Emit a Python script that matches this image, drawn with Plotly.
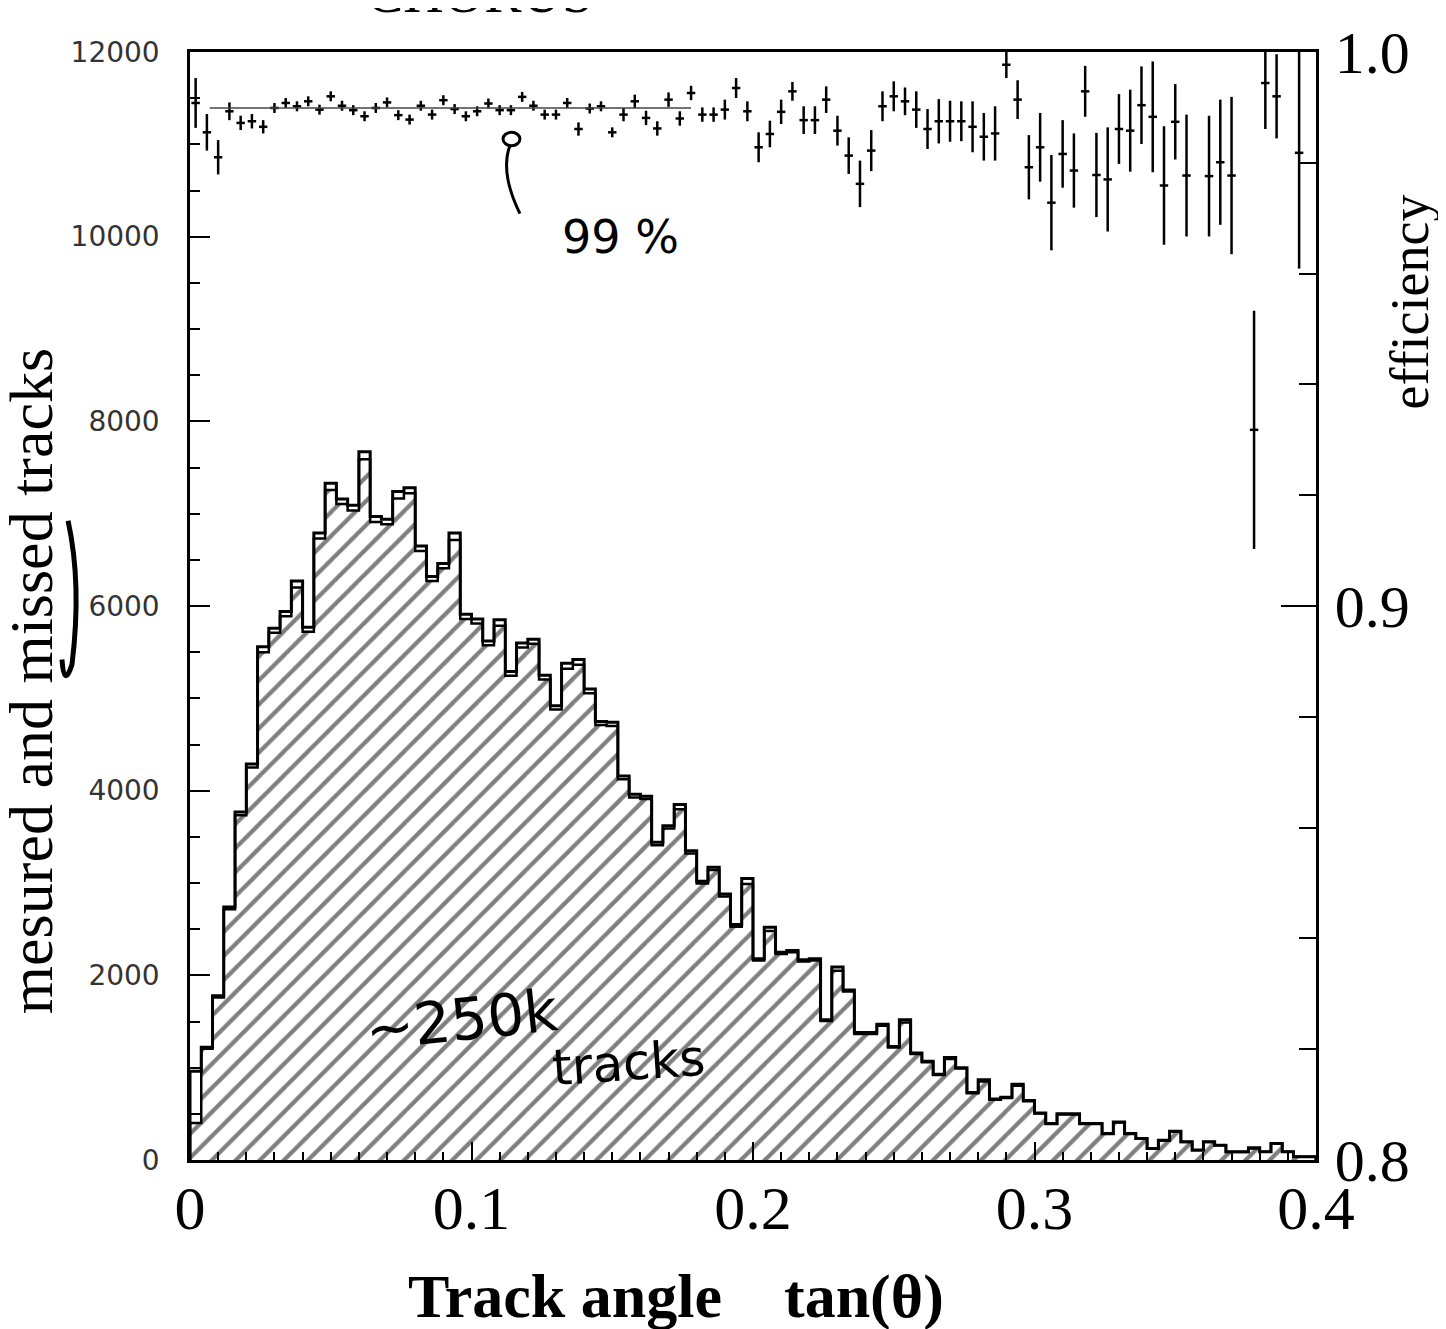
import numpy as np
import plotly.graph_objects as go

# ---------------- data ----------------
bin_width = 0.004
x_range = [0.0, 0.4]

# measured + missed tracks per bin (outer outline), 100 bins of 0.004 in tan(theta)
total_tracks = [
    960, 1220, 1780, 2740, 3770, 4290, 5560, 5760, 5940, 6270,
    5770, 6790, 7330, 7160, 7090, 7670, 6970, 6940, 7240, 7280,
    6650, 6320, 6460, 6790, 5910, 5860, 5620, 5850, 5290, 5600,
    5640, 5250, 4920, 5380, 5420, 5100, 4750, 4740, 4160, 3960,
    3940, 3440, 3620, 3850, 3350, 3020, 3170, 2880, 2550, 3050,
    2180, 2520, 2250, 2270, 2170, 2180, 1520, 2090, 1840, 1380,
    1380, 1470, 1230, 1520, 1160, 1070, 930, 1110, 1000, 730,
    870, 660, 680, 820, 645, 510, 394, 500, 500, 394,
    394, 286, 411, 286, 233, 125, 215, 311, 197, 107,
    197, 161, 89, 89, 132, 89, 179, 89, 36, 36,
]

# missed tracks per bin (gap between the two outlines)
missed_tracks = [
    560, 15, 20, 25, 35, 40, 60, 50, 50, 70,
    50, 60, 75, 55, 55, 80, 60, 55, 75, 60,
    55, 50, 50, 75, 50, 50, 45, 65, 45, 50,
    50, 45, 40, 60, 55, 45, 40, 40, 35, 35,
    30, 30, 30, 50, 30, 25, 30, 25, 25, 60,
    20, 40, 20, 20, 20, 20, 15, 40, 15, 15,
    15, 15, 12, 30, 12, 10, 10, 15, 10, 8,
    20, 8, 8, 15, 8, 6, 5, 6, 6, 5,
    5, 4, 5, 4, 3, 2, 3, 4, 3, 2,
    3, 2, 2, 2, 8, 1, 2, 1, 1, 1,
]

# efficiency per bin (right axis) and its error
efficiency = [
    0.9908, 0.9855, 0.9810, 0.9893, 0.9872, 0.9875, 0.9865, 0.9899, 0.9908, 0.9902,
    0.9911, 0.9896, 0.9920, 0.9903, 0.9895, 0.9884, 0.9899, 0.9909, 0.9886, 0.9878,
    0.9903, 0.9887, 0.9913, 0.9897, 0.9884, 0.9893, 0.9907, 0.9895, 0.9895, 0.9919,
    0.9903, 0.9887, 0.9887, 0.9908, 0.9861, 0.9898, 0.9902, 0.9855, 0.9887, 0.9911,
    0.9881, 0.9862, 0.9914, 0.9880, 0.9926, 0.9887, 0.9887, 0.9896, 0.9935, 0.9893,
    0.9828, 0.9852, 0.9892, 0.9929, 0.9877, 0.9877, 0.9914, 0.9858, 0.9813, 0.9762,
    0.9822, 0.9902, 0.9920, 0.9911, 0.9896, 0.9861, 0.9875, 0.9875, 0.9875, 0.9865,
    0.9847, 0.9853, 0.9977, 0.9914, 0.9792, 0.9828, 0.9728, 0.9816, 0.9786, 0.9929,
    0.9778, 0.9770, 0.9861, 0.9858, 0.9904, 0.9883, 0.9759, 0.9874, 0.9777, None,
    0.9776, 0.9801, 0.9777, None, 0.9318, 0.9944, 0.9920, None, 0.9818, None,
]
efficiency_err = [
    0.0045, 0.0033, 0.0031, 0.0016, 0.0013, 0.0013, 0.0012, 0.0009, 0.0009, 0.0009,
    0.0009, 0.0009, 0.0009, 0.0009, 0.0009, 0.0009, 0.0009, 0.0009, 0.0009, 0.0009,
    0.0009, 0.0009, 0.0009, 0.0009, 0.0009, 0.0009, 0.0009, 0.0009, 0.0009, 0.0009,
    0.0009, 0.0009, 0.0009, 0.0009, 0.0012, 0.0009, 0.0009, 0.0009, 0.0012, 0.0012,
    0.0013, 0.0013, 0.0013, 0.0013, 0.0013, 0.0013, 0.0013, 0.0018, 0.0018, 0.0018,
    0.0027, 0.0024, 0.0022, 0.0017, 0.0025, 0.0025, 0.0024, 0.0027, 0.0033, 0.0042,
    0.0037, 0.0027, 0.0027, 0.0025, 0.0033, 0.0036, 0.0040, 0.0037, 0.0036, 0.0046,
    0.0043, 0.0049, 0.0024, 0.0035, 0.0058, 0.0062, 0.0086, 0.0061, 0.0067, 0.0046,
    0.0076, 0.0094, 0.0063, 0.0074, 0.0070, 0.0100, 0.0107, 0.0068, 0.0110, None,
    0.0109, 0.0113, 0.0142, None, 0.0215, 0.0083, 0.0076, None, 0.0209, None,
]

# flat fit of the efficiency (the "99 %" line)
fit_x = [0.007, 0.178]
fit_y = [0.9899, 0.9899]

x_tick_vals = [0.0, 0.1, 0.2, 0.3, 0.4]
x_tick_labels = ["0", "0.1", "0.2", "0.3", "0.4"]
left_tick_vals = [0, 2000, 4000, 6000, 8000, 10000, 12000]
left_tick_labels = ["0", "2000", "4000", "6000", "8000", "10000", "12000"]
right_tick_vals = [0.8, 0.9, 1.0]
right_tick_labels = ["0.8", "0.9", "1.0"]

# ---------------- derived ----------------
n = len(total_tracks)
edges = np.arange(n + 1) * bin_width
centers = edges[:-1] + bin_width / 2
total = np.array(total_tracks, dtype=float)
measured = total - np.array(missed_tracks, dtype=float)

step_x = np.concatenate([[edges[0]], edges[:-1], [edges[-1], edges[-1]]])
step_total = np.concatenate([[0], total, [total[-1], 0]])
step_meas = np.concatenate([[0], measured, [measured[-1], 0]])

SERIF = "Liberation Serif, Times New Roman, serif"
HAND = "DejaVu Sans, sans-serif"

fig = go.Figure()

# hatched measured histogram
fig.add_trace(go.Bar(
    x=centers, y=measured, width=bin_width,
    marker=dict(color="white", line=dict(width=0),
                pattern=dict(shape="/", fgcolor="black", bgcolor="white",
                             size=17, solidity=0.25)),
    showlegend=False, hoverinfo="skip",
))
# outlines
fig.add_trace(go.Scatter(x=step_x, y=step_meas, mode="lines",
                         line=dict(color="black", width=2.5, shape="hv"),
                         showlegend=False, hoverinfo="skip"))
fig.add_trace(go.Scatter(x=step_x, y=step_total, mode="lines",
                         line=dict(color="black", width=3, shape="hv"),
                         showlegend=False, hoverinfo="skip"))

# efficiency points with error bars
fig.add_trace(go.Scatter(
    x=centers, y=efficiency, yaxis="y2", mode="markers",
    marker=dict(size=1, color="black"),
    error_y=dict(type="data", array=efficiency_err, visible=True,
                 color="black", thickness=2.5, width=0),
    error_x=dict(type="constant", value=0.0015, visible=True,
                 color="black", thickness=2.5, width=0),
    showlegend=False,
))
fig.add_trace(go.Scatter(x=fit_x, y=fit_y, yaxis="y2", mode="lines",
                         line=dict(color="#444", width=1.5),
                         showlegend=False, hoverinfo="skip"))

# page has an 8px body margin: figure is offset by 8px
fig.update_layout(
    width=1438, height=1321,
    margin=dict(l=182, r=130, t=34, b=169),
    paper_bgcolor="white", plot_bgcolor="white",
    bargap=0, barmode="overlay",
    showlegend=False,
    xaxis=dict(
        range=x_range, showgrid=False, zeroline=False,
        showline=True, linecolor="black", linewidth=2.5, mirror=True,
        ticks="inside", ticklen=18, tickwidth=2, tickcolor="black",
        tickvals=x_tick_vals, ticktext=x_tick_labels,
        minor=dict(dtick=0.01, tick0=0, ticks="inside", ticklen=8,
                   tickwidth=1.5, tickcolor="black"),
        tickfont=dict(family=SERIF, size=62, color="black"),
        ticklabelstandoff=-8,
    ),
    yaxis=dict(
        range=[0, 12000], showgrid=False, zeroline=False,
        showline=True, linecolor="black", linewidth=2.5,
        ticks="inside", ticklen=20, tickwidth=2, tickcolor="black",
        tickvals=left_tick_vals, ticktext=left_tick_labels,
        minor=dict(dtick=500, tick0=0, ticks="inside", ticklen=10,
                   tickwidth=1.5, tickcolor="black"),
        tickfont=dict(family="DejaVu Sans, sans-serif", size=28, color="#333"),
        ticklabelstandoff=22,
    ),
    yaxis2=dict(
        overlaying="y", side="right", range=[0.8, 1.0],
        showgrid=False, zeroline=False,
        showline=True, linecolor="black", linewidth=2.5,
        ticks="inside", ticklen=35, tickwidth=2, tickcolor="black",
        tickvals=right_tick_vals, ticktext=right_tick_labels,
        minor=dict(dtick=0.02, tick0=0.8, ticks="inside", ticklen=17,
                   tickwidth=1.5, tickcolor="black"),
        tickfont=dict(family=SERIF, size=60, color="black"),
        ticklabelstandoff=4,
    ),
)


def note(x, y, text, size, family=SERIF, angle=0, xref="paper", yref="paper"):
    fig.add_annotation(xref=xref, yref=yref, x=x, y=y, text=text,
                       textangle=angle, showarrow=False,
                       xanchor="center", yanchor="middle",
                       font=dict(family=family, size=size, color="black"))


# axis titles
note(-0.1405, 0.432, "mesured and missed tracks", 62, angle=-90)
note(1.0835, 0.774, "efficiency", 54, angle=-90)
note(0.4316, -0.1234,
     "<b>Track angle\u00a0\u00a0\u00a0\u00a0tan(θ)</b>", 62)
# cut-off title at the top
note(0.2575, 1.0537, "CHORUS", 56)

# handwritten notes
note(0.1528, 10000, "99 %", 46, family=HAND, xref="x", yref="y")
note(0.0966, 1520, "~250k", 58, family=HAND, angle=-6, xref="x", yref="y")
note(0.1556, 1052, "tracks", 50, family=HAND, angle=-4, xref="x", yref="y")

# hand-drawn arrow to the 99% line and underline mark
fig.add_shape(type="path", xref="x", yref="y",
              path="M 0.1172,10250 Q 0.1100,10700 0.1137,10990",
              line=dict(color="black", width=3))
fig.add_shape(type="circle", xref="x", yref="y",
              x0=0.1112, x1=0.1172, y0=10985, y1=11130,
              line=dict(color="black", width=3))
fig.add_shape(type="path", xref="paper", yref="paper",
              path="M -0.1083,0.5769 Q -0.0960,0.52 -0.1048,0.4472 Q -0.1119,0.425 -0.1137,0.4517",
              line=dict(color="black", width=5))

fig.write_html("out.html")
